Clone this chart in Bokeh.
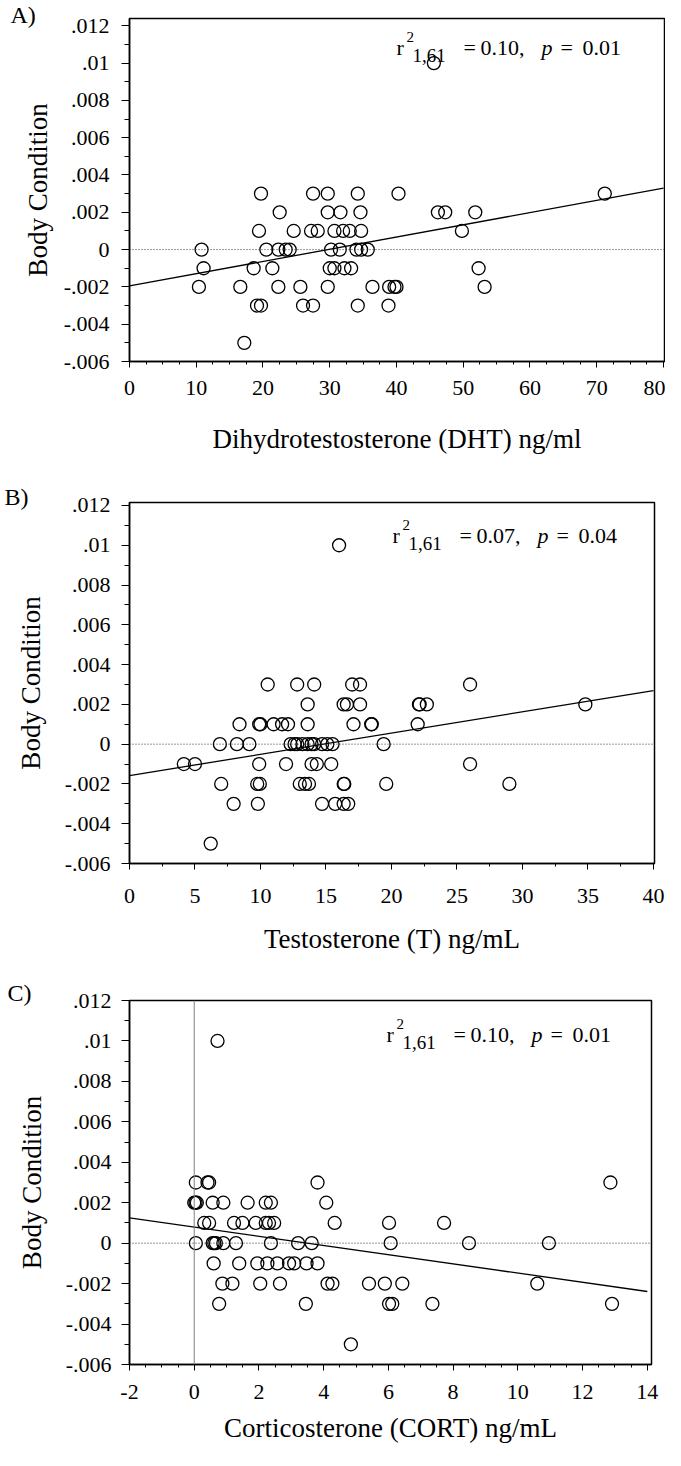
from bokeh.plotting import figure
from bokeh.layouts import column
from bokeh.models import Range1d, FixedTicker, CustomJSTickFormatter, Span, Label
from bokeh.embed import file_html
from bokeh.resources import INLINE

FONT = "Liberation Serif, Times New Roman, DejaVu Serif, serif"

# ---------------- data ----------------
# Panel A: DHT (ng/ml) vs body condition
dht_ng_ml = [45.6,
             19.7, 27.5, 29.7, 34.2, 40.3, 71.2,
             22.5, 29.7, 31.6, 34.6, 46.2, 47.3, 51.8,
             19.4, 24.6, 27.2, 28.2, 30.7, 32.0, 33.0, 34.7, 49.8,
             10.8, 20.5, 22.3, 23.4, 24.0, 30.2, 31.5, 34.0, 34.7, 35.7,
             11.1, 18.6, 21.4, 30.0, 30.7, 32.2, 33.2, 52.3,
             10.4, 16.6, 22.3, 25.6, 29.7, 36.4, 38.9, 39.7, 40.0, 53.2,
             19.1, 19.7, 26.0, 27.5, 34.2, 38.8,
             17.2]
body_cond_a = [0.010,
               0.003, 0.003, 0.003, 0.003, 0.003, 0.003,
               0.002, 0.002, 0.002, 0.002, 0.002, 0.002, 0.002,
               0.001, 0.001, 0.001, 0.001, 0.001, 0.001, 0.001, 0.001, 0.001,
               0.0, 0.0, 0.0, 0.0, 0.0, 0.0, 0.0, 0.0, 0.0, 0.0,
               -0.001, -0.001, -0.001, -0.001, -0.001, -0.001, -0.001, -0.001,
               -0.002, -0.002, -0.002, -0.002, -0.002, -0.002, -0.002, -0.002, -0.002, -0.002,
               -0.003, -0.003, -0.003, -0.003, -0.003, -0.003,
               -0.005]

# Panel B: Testosterone (ng/mL) vs body condition
t_ng_ml = [16.0,
           10.55, 12.8, 14.1, 17.0, 17.6, 26.0,
           13.6, 16.35, 16.6, 17.6, 22.1, 22.15, 22.7, 34.8,
           8.4, 9.9, 10.0, 11.0, 11.65, 12.1, 13.6, 17.1, 18.45, 18.5, 22.0,
           6.9, 8.2, 9.15, 12.3, 12.6, 12.8, 13.2, 13.6, 13.9, 14.1, 14.7, 15.1, 15.5, 19.4,
           4.15, 5.0, 9.9, 11.95, 13.9, 14.3, 15.4, 26.0,
           7.0, 9.75, 9.95, 13.0, 13.4, 13.7, 16.35, 16.4, 19.6, 29.0,
           7.95, 9.8, 14.7, 15.7, 16.35, 16.7,
           6.2]
body_cond_b = [0.010,
               0.003, 0.003, 0.003, 0.003, 0.003, 0.003,
               0.002, 0.002, 0.002, 0.002, 0.002, 0.002, 0.002, 0.002,
               0.001, 0.001, 0.001, 0.001, 0.001, 0.001, 0.001, 0.001, 0.001, 0.001, 0.001,
               0.0, 0.0, 0.0, 0.0, 0.0, 0.0, 0.0, 0.0, 0.0, 0.0, 0.0, 0.0, 0.0, 0.0,
               -0.001, -0.001, -0.001, -0.001, -0.001, -0.001, -0.001, -0.001,
               -0.002, -0.002, -0.002, -0.002, -0.002, -0.002, -0.002, -0.002, -0.002, -0.002,
               -0.003, -0.003, -0.003, -0.003, -0.003, -0.003,
               -0.005]

# Panel C: Corticosterone (ng/mL) vs body condition
cort_ng_ml = [0.72,
              0.05, 0.41, 0.46, 3.81, 12.86,
              0.0, 0.04, 0.08, 0.57, 0.9, 1.65, 2.21, 2.37, 4.08,
              0.31, 0.46, 1.23, 1.49, 1.9, 2.21, 2.31, 2.47, 4.34, 6.02, 7.72,
              0.05, 0.57, 0.62, 0.67, 0.9, 1.29, 2.37, 3.21, 3.63, 6.07, 8.49, 10.96,
              0.6, 1.39, 1.95, 2.26, 2.57, 2.93, 3.09, 3.47, 3.81,
              0.87, 1.18, 2.04, 2.65, 4.12, 4.27, 5.4, 5.89, 6.43, 10.6,
              0.77, 3.45, 6.02, 6.12, 7.36, 12.91,
              4.84]
body_cond_c = [0.010,
               0.003, 0.003, 0.003, 0.003, 0.003,
               0.002, 0.002, 0.002, 0.002, 0.002, 0.002, 0.002, 0.002, 0.002,
               0.001, 0.001, 0.001, 0.001, 0.001, 0.001, 0.001, 0.001, 0.001, 0.001, 0.001,
               0.0, 0.0, 0.0, 0.0, 0.0, 0.0, 0.0, 0.0, 0.0, 0.0, 0.0, 0.0,
               -0.001, -0.001, -0.001, -0.001, -0.001, -0.001, -0.001, -0.001, -0.001,
               -0.002, -0.002, -0.002, -0.002, -0.002, -0.002, -0.002, -0.002, -0.002, -0.002,
               -0.003, -0.003, -0.003, -0.003, -0.003, -0.003,
               -0.005]

# regression fits (intercept, slope)
fit_a = (-0.00195, 0.0000656)
fit_b = (-0.00158, 0.0001068)
fit_c = (0.000795, -0.0002275)

# statistics text values
stats_a = ("0.10,", "0.01")
stats_b = ("0.07,", "0.04")
stats_c = ("0.10,", "0.01")

# ticks
y_tick_values = [-0.006, -0.004, -0.002, 0.0, 0.002, 0.004, 0.006, 0.008, 0.01, 0.012]
y_tick_labels = ["-.006", "-.004", "-.002", "0", ".002", ".004", ".006", ".008", ".01", ".012"]
y_minor = [-0.006 + 0.001 * i for i in range(19)]

x_ticks_a = [0, 10, 20, 30, 40, 50, 60, 70, 80]
x_labels_a = ["0", "10", "20", "30", "40", "50", "60", "70", "80"]
x_ticks_b = [0, 5, 10, 15, 20, 25, 30, 35, 40]
x_labels_b = ["0", "5", "10", "15", "20", "25", "30", "35", "40"]
x_ticks_c = [-2, 0, 2, 4, 6, 8, 10, 12, 14]
x_labels_c = ["-2", "0", "2", "4", "6", "8", "10", "12", "14"]

JS_FMT = """
let i = -1;
for (let k = 0; k < vals.length; k++) { if (Math.abs(vals[k] - tick) < 1e-9) { i = k; break; } }
return i >= 0 ? labs[i] : "";
"""


def make_panel(letter, xs, ys, fit, stats, xticks, xlabels, xminor_step,
               xrange_, yend, xlabel, fw, fh, bl, br, bt, bb,
               ystand, ylab_stand, xstand, xlab_stand, ann_xy,
               title_offset, title_standoff, zero_vline=False):
    p = figure(frame_width=fw, frame_height=fh, min_border_left=bl, min_border_right=br,
               min_border_top=bt, min_border_bottom=bb,
               x_range=Range1d(*xrange_), y_range=Range1d(-0.006, yend),
               output_backend="svg", toolbar_location=None,
               background_fill_color="white", border_fill_color="white")
    p.xgrid.visible = False
    p.ygrid.visible = False
    p.outline_line_color = "black"
    p.outline_line_width = 1.5
    p.outline_line_alpha = 1.0

    # panel letter as the plot title
    p.title.text = letter
    p.title.text_font = FONT
    p.title.text_font_size = "24px"
    p.title.text_font_style = "normal"
    p.title.text_color = "black"
    p.title.align = "left"
    p.title.vertical_align = "middle"
    p.title.offset = title_offset
    p.title.standoff = title_standoff

    xminor = []
    v = xticks[0]
    while v <= xticks[-1] + 1e-9:
        xminor.append(round(v, 6))
        v += xminor_step

    p.xaxis.ticker = FixedTicker(ticks=xticks, minor_ticks=xminor)
    p.xaxis.formatter = CustomJSTickFormatter(args=dict(vals=xticks, labs=xlabels), code=JS_FMT)
    p.yaxis.ticker = FixedTicker(ticks=y_tick_values, minor_ticks=y_minor)
    p.yaxis.formatter = CustomJSTickFormatter(args=dict(vals=y_tick_values, labs=y_tick_labels), code=JS_FMT)

    for ax in (p.xaxis, p.yaxis):
        ax.axis_line_color = "black"
        ax.axis_line_width = 1.5
        ax.major_tick_line_color = "black"
        ax.minor_tick_line_color = "black"
        ax.major_tick_line_width = 1
        ax.minor_tick_line_width = 1
        ax.major_tick_in = 0
        ax.minor_tick_in = 0
        ax.major_label_text_font = FONT
        ax.major_label_text_font_size = "22px"
        ax.major_label_text_color = "black"
        ax.axis_label_text_font = FONT
        ax.axis_label_text_font_size = "27px"
        ax.axis_label_text_font_style = "normal"
        ax.axis_label_text_color = "black"
    p.xaxis.major_tick_out = 6
    p.xaxis.minor_tick_out = 3
    p.yaxis.major_tick_out = 8
    p.yaxis.minor_tick_out = 5
    p.yaxis.major_label_standoff = ystand
    p.yaxis.axis_label_standoff = ylab_stand
    p.xaxis.major_label_standoff = xstand
    p.xaxis.axis_label_standoff = xlab_stand
    p.xaxis.axis_label = xlabel
    p.yaxis.axis_label = "Body Condition"

    if zero_vline:
        p.add_layout(Span(location=0, dimension="height", line_color="#808080", line_width=1))
    p.add_layout(Span(location=0, dimension="width", line_color="#333333",
                      line_width=1, line_dash="1 2"))

    x0, x1 = xticks[0], xticks[-1]
    b0, b1 = fit
    p.line([x0, x1], [b0 + b1 * x0, b0 + b1 * x1], line_color="black", line_width=1.3)

    p.scatter(xs, ys, marker="circle", size=13, fill_color=None,
              line_color="black", line_width=1.3)

    # statistics annotation: r^2_{1,61} = a, p = b
    ax_, ay_ = ann_xy
    pieces = [
        ("r", 0, 0, "22px", "normal"),
        ("2", 10, 11, "15px", "normal"),
        ("1,61", 16, -8, "19px", "normal"),
        ("=", 67, 0, "22px", "normal"),
        (stats[0], 84, 0, "22px", "normal"),
        ("p", 145, 0, "22px", "italic"),
        ("=", 164, 0, "22px", "normal"),
        (stats[1], 186, 0, "22px", "normal"),
    ]
    for txt, dx, dy, fs, st in pieces:
        p.add_layout(Label(x=ax_ + dx, y=ay_ + dy, x_units="screen", y_units="screen",
                           text=txt, text_font=FONT, text_font_size=fs,
                           text_font_style=st, text_color="black",
                           text_baseline="alphabetic"))
    return p


pa = make_panel("A)", dht_ng_ml, body_cond_a, fit_a, stats_a, x_ticks_a, x_labels_a, 2.5,
                (0, 80.15), 0.01239, "Dihydrotestosterone (DHT) ng/ml",
                535, 343, 122, 8, 18, 111,
                12, 8, 13, 26, (267, 314), -119, -21)
pb = make_panel("B)", t_ng_ml, body_cond_b, fit_b, stats_b, x_ticks_b, x_labels_b, 2.5,
                (0, 40.08), 0.01215, "Testosterone (T) ng/mL",
                525, 361, 129, 11, 30, 99,
                11, 16, 19, 18, (263, 328), -125, -17)
pc = make_panel("C)", cort_ng_ml, body_cond_c, fit_c, stats_c, x_ticks_c, x_labels_c, 0.5,
                (-2, 14.13), 0.012, "Corticosterone (CORT) ng/mL",
                522, 364, 128, 15, 38, 86,
                10, 16, 14, 11, (257, 330), -122, -13, zero_vline=True)

layout = column(pa, pb, pc, spacing=0)
open("out.html", "w").write(file_html(layout, INLINE))
